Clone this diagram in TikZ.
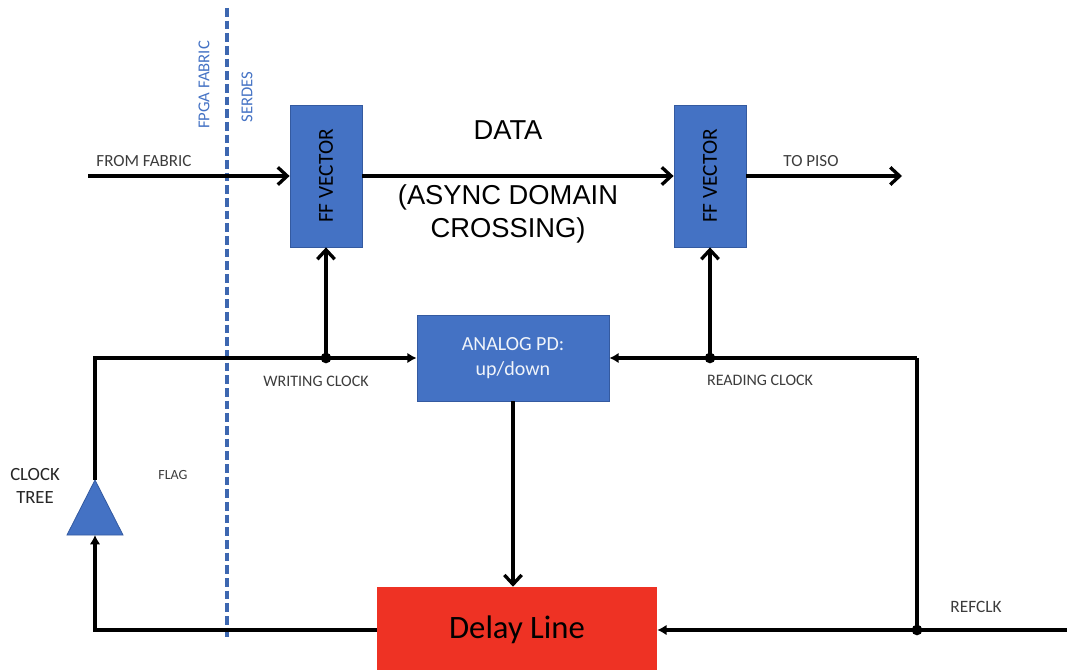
\documentclass[tikz,border=0pt]{standalone}
\usepackage{fontspec}
\setmainfont{Carlito}
\newfontfamily\arialfont{Liberation Sans}
\usetikzlibrary{arrows.meta}

\definecolor{boxblue}{RGB}{68,114,196}
\definecolor{boxedge}{RGB}{52,90,160}
\definecolor{delayred}{RGB}{238,50,36}
\definecolor{labelgrey}{RGB}{60,60,60}

\tikzset{
  block/.style={draw=boxedge, fill=boxblue, line width=0.6pt, inner sep=0pt, align=center},
  ffblock/.style={block, minimum width=54pt, minimum height=106.5pt, font=\fontsize{16}{19}\selectfont},
  pdblock/.style={block, minimum width=144pt, minimum height=64.5pt, text=white!92!boxblue, font=\fontsize{15}{19}\selectfont},
  delayblock/.style={draw=none, fill=delayred, inner sep=0pt, minimum width=210pt, minimum height=64.5pt, font=\fontsize{24.5}{28}\selectfont},
  wire/.style={line width=2.5pt, line join=miter},
  sig/.style={wire, -{Straight Barb[length=7pt,width=13pt]}},
  tip/.style={wire, -{Latex[length=7pt,width=8pt]}},
  dot/.style={circle, fill=black, inner sep=0pt, minimum size=8pt},
  smalllabel/.style={text=labelgrey, inner sep=0.75pt, align=center},
  sidelabel/.style={text=boxblue, inner sep=0.75pt, font=\fontsize{12.5}{15}\selectfont}
}

\begin{document}
\begin{tikzpicture}[x=0.75pt,y=0.75pt,yscale=-1,xscale=1]
    \useasboundingbox (0,0) rectangle (1067,670);

    %Shape: dashed border fabric / serdes
    \draw [boxblue!90!black, line width=2.6pt, dash pattern={on 6.5pt off 3pt}] (227,8) -- (227,640) ;
    % Text Node
    \node [sidelabel, rotate=90] (fpga) at (204,85) {FPGA FABRIC};
    % Text Node
    \node [sidelabel, rotate=90] (serdes) at (247,97) {SERDES};

    %Shape: blocks
    \node [ffblock] (ffw) at (326,176) {\rotatebox{90}{FF VECTOR}};
    \node [ffblock] (ffr) at (710,176) {\rotatebox{90}{FF VECTOR}};
    \node [pdblock] (pd) at (513,358) {ANALOG PD:\\up/down};
    \node [delayblock] (delay) at (517,630) {Delay Line};

    %Shape: clock tree buffer
    \draw [fill=boxblue, draw=boxedge, line width=0.6pt] (67,535) -- (95,480) -- (123,535) -- cycle ;
    \coordinate (treetop) at (95,480);
    \coordinate (treebot) at (95,535);

    % free ends and corners
    \coordinate (fabin) at (88,176);
    \coordinate (pisoout) at (902,176);
    \coordinate (treecorner) at (95,358);
    \coordinate (dlcorner) at (95,630);
    \coordinate (refcorner) at (917,358);
    \coordinate (refjoin) at (917,630);
    \coordinate (refin) at (1067,630);
    \coordinate (wjoin) at (ffw.south |- pd.west);
    \coordinate (rjoin) at (ffr.south |- pd.east);

    % data path
    \draw [sig] (fabin) -- (ffw.west) ;
    \draw [sig] (ffw.east) -- (ffr.west) ;
    \draw [sig] (ffr.east) -- (pisoout) ;

    % clock loop
    \draw [tip] (treetop) -- (treecorner) -- (pd.west) ;
    \draw [sig] (wjoin) -- (ffw.south) ;
    \draw [tip] (refcorner) -- (pd.east) ;
    \draw [wire] (refcorner) -- (refjoin) ;
    \draw [sig] (rjoin) -- (ffr.south) ;
    \draw [sig] (pd.south) -- (pd.south |- delay.north) ;
    \draw [tip] (refin) -- (delay.east) ;
    \draw [tip] (delay.west) -- (dlcorner) -- (treebot) ;

    \node [dot] (wdot) at (wjoin) {};
    \node [dot] (rdot) at (rjoin) {};
    \node [dot] (refdot) at (refjoin) {};

    % Text Node
    \node [smalllabel, font=\fontsize{12.75}{15}\selectfont] (fromfab) at (144,161) {FROM FABRIC};
    % Text Node
    \node [smalllabel, font=\fontsize{12.75}{15}\selectfont] (topiso) at (811,161) {TO PISO};
    % Text Node
    \node [inner sep=0.75pt, font=\arialfont\fontsize{20.5}{25}\selectfont] (datalbl) at (508,130) {DATA};
    % Text Node
    \node [inner sep=0.75pt, align=center, font=\arialfont\fontsize{20.5}{25}\selectfont] (asynclbl) at (508,214) {(ASYNC DOMAIN\\CROSSING)};
    % Text Node
    \node [smalllabel, font=\fontsize{12}{14}\selectfont] (wclk) at (316,381) {WRITING CLOCK};
    % Text Node
    \node [smalllabel, font=\fontsize{12}{14}\selectfont] (rclk) at (760,380) {READING CLOCK};
    % Text Node
    \node [smalllabel, text=black!85, font=\fontsize{14}{17.5}\selectfont] (treelbl) at (35,486) {CLOCK\\TREE};
    % Text Node
    \node [smalllabel, font=\fontsize{10.5}{13}\selectfont] (flag) at (173,475) {FLAG};
    % Text Node
    \node [smalllabel, font=\fontsize{13}{15}\selectfont] (refclk) at (976,607) {REFCLK};
\end{tikzpicture}
\end{document}
